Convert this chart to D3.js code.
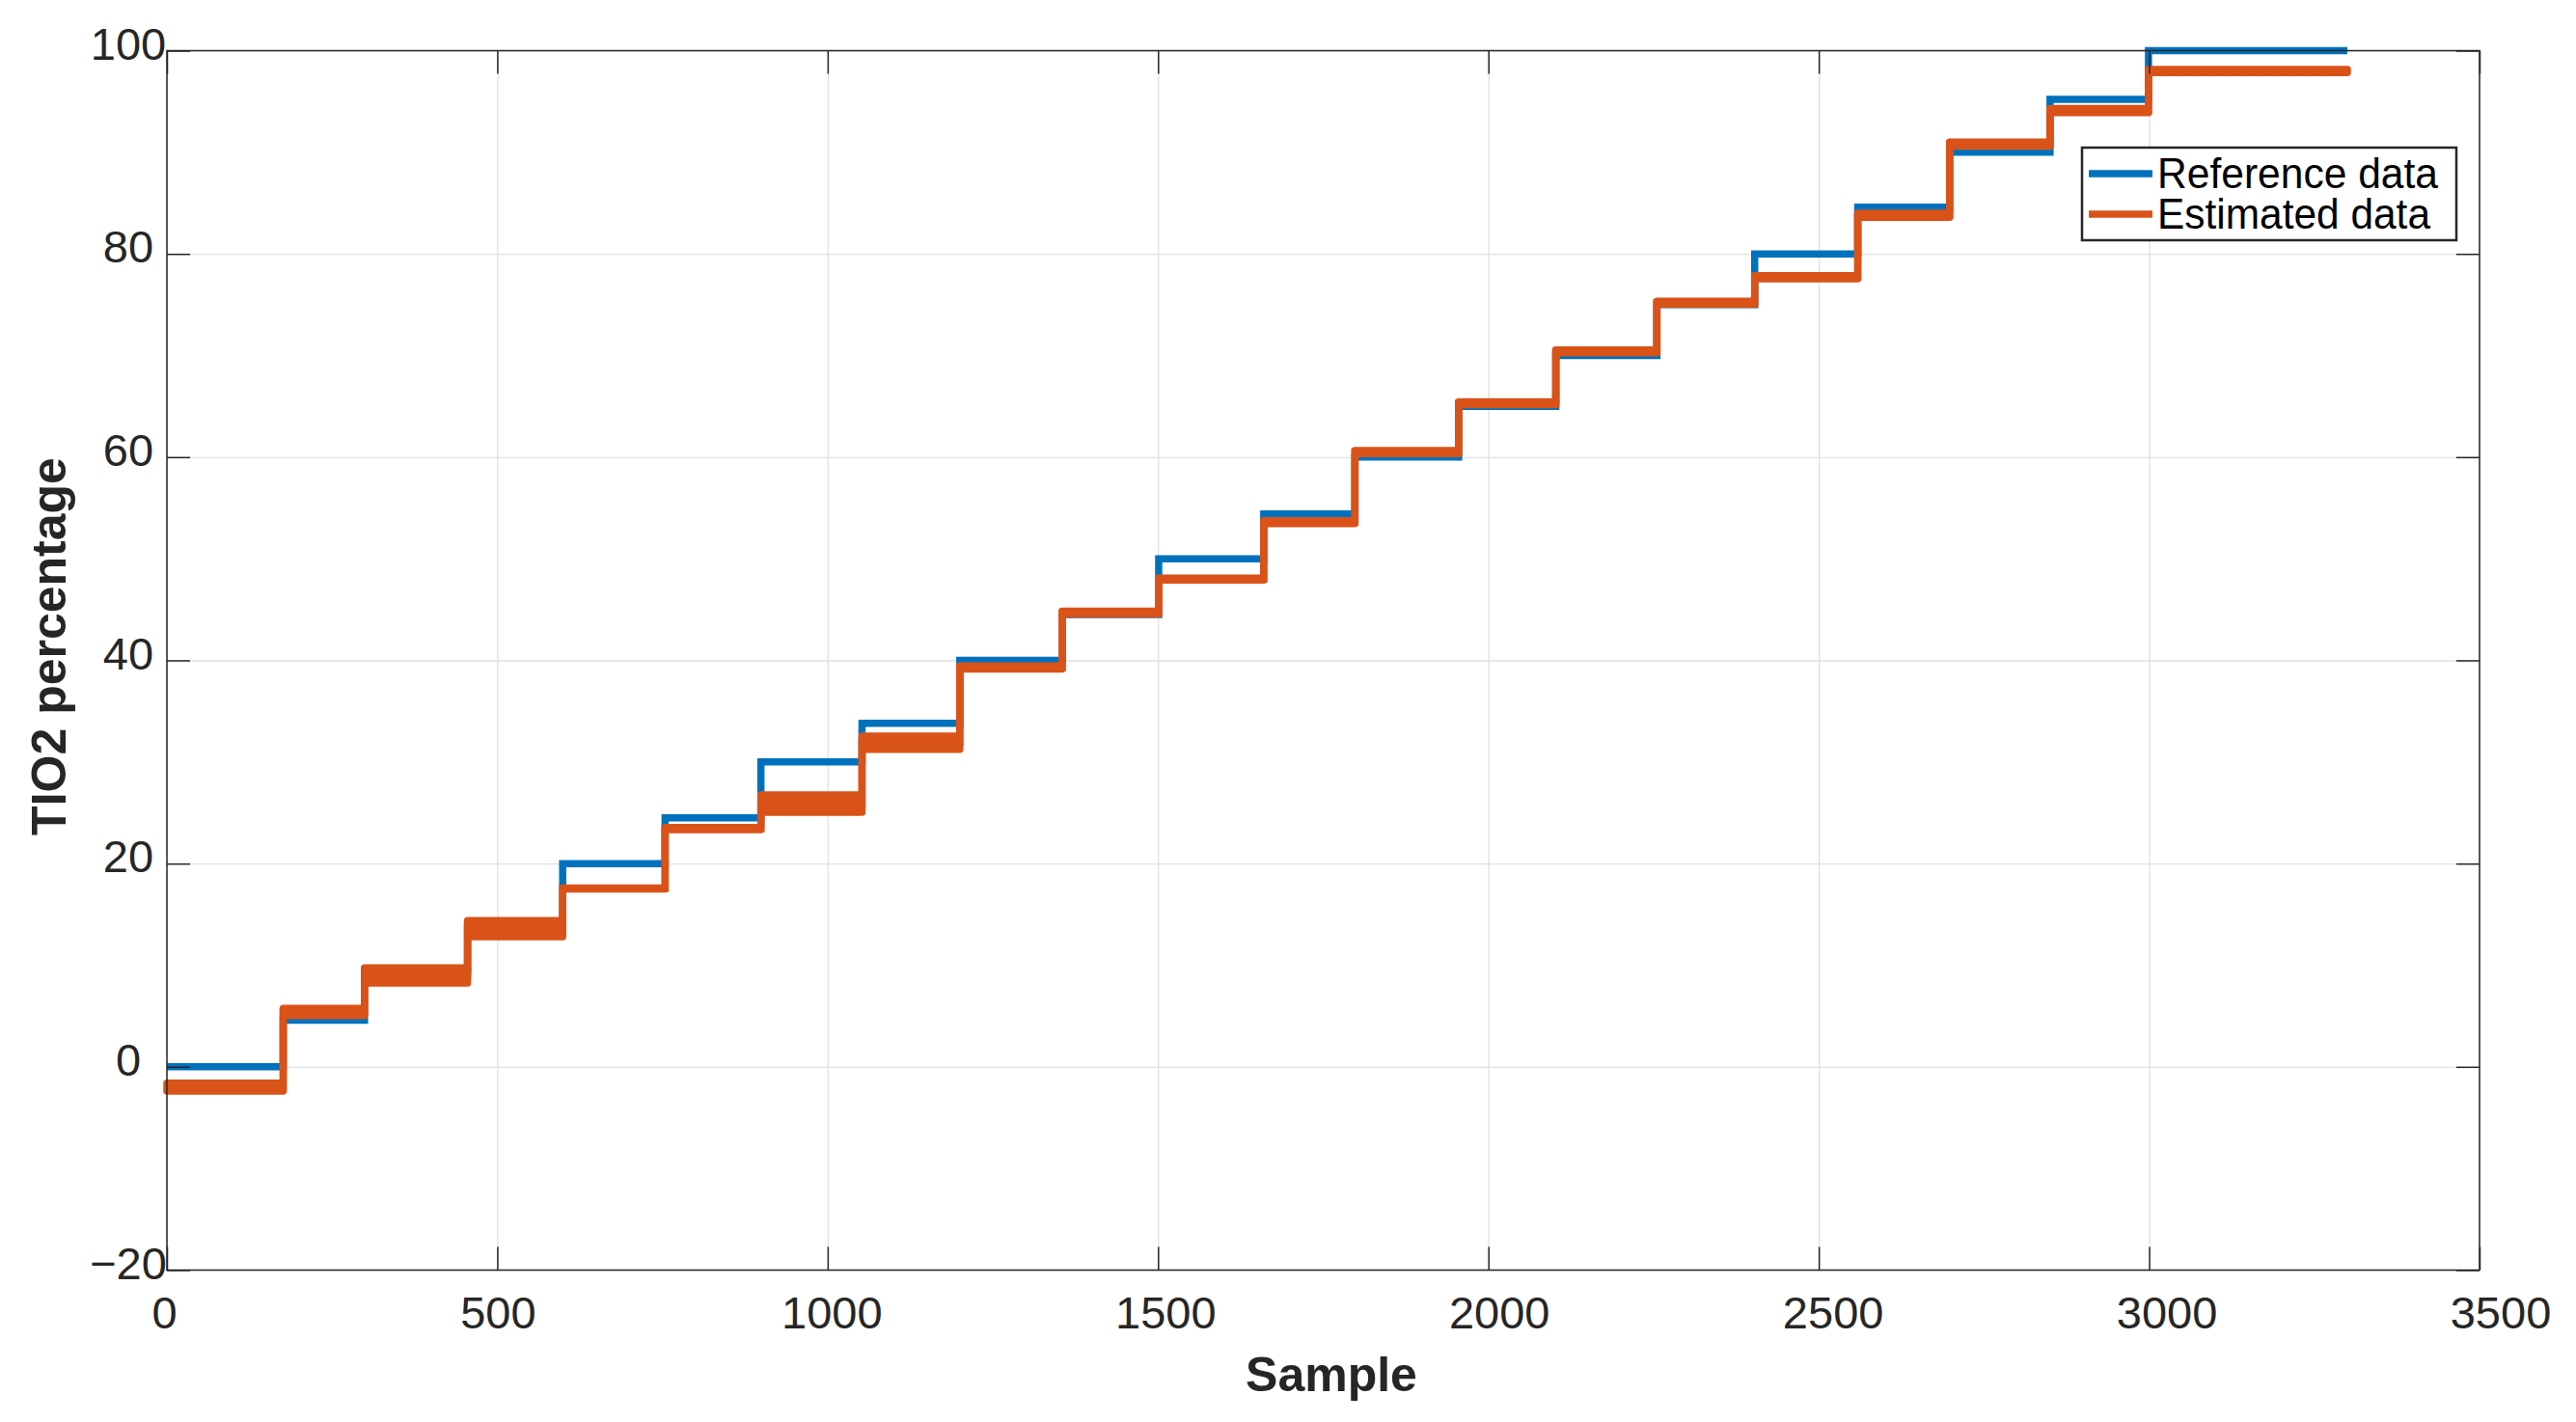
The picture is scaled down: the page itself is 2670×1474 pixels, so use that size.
<!DOCTYPE html>
<meta charset="utf-8">
<style>
body { margin: 0; background: #fff; }
text { font-family: "Liberation Sans", Arial, Helvetica, sans-serif; }
.grid line { stroke: #e0e0e0; stroke-width: 1.3px; }
.grid path { display: none; }
.ticks line { stroke: #262626; stroke-width: 1.5px; }
.ticks path { display: none; }
.ticklabel { font-size: 47px; fill: #262626; }
.axislabel { font-size: 50px; font-weight: bold; fill: #262626; }
</style>
<svg></svg>
<script src="https://d3js.org/d3.v7.min.js"></script>
<script>

// sample index where each level starts, last entry = end of record
var stepStarts = [0, 176, 299, 455, 599, 754, 899, 1052, 1200, 1355, 1501, 1660, 1798, 1955, 2102, 2255, 2403, 2559, 2698, 2850, 2999];
var lastSample = 3300;

// reference TiO2 level for each step
var refValues = [0, 4.6, 9.5, 14, 20, 24.5, 30, 33.8, 40, 44.5, 50, 54.4, 60, 65, 70, 75, 80, 84.6, 90, 95.2, 100];

// estimated level (mean) and the half width of the noise around it
var estValues = [-2.0, 5.4, 9.0, 13.6, 17.55, 23.45, 25.9, 31.9, 39.3, 44.7, 48.0, 53.6, 60.5, 65.3, 70.4, 75.2, 77.7, 83.8, 90.8, 94.1, 98.0];
var estSpread = [0.4, 0.35, 0.75, 0.8, 0.05, 0.1, 0.85, 0.65, 0.15, 0.15, 0.1, 0.15, 0.15, 0.15, 0.15, 0.15, 0.15, 0.2, 0.2, 0.2, 0.15];

var xTicks = [0, 500, 1000, 1500, 2000, 2500, 3000, 3500];
var yTicks = [-20, 0, 20, 40, 60, 80, 100];

var seriesNames = ["Reference data", "Estimated data"];
var colors = ["#0072bd", "#d95319"];

var svg = d3.select("svg")
    .attr("width", 2670)
    .attr("height", 1474);

// plot box (note: "top" is a reserved window prop, so use box.*)
var box = { l: 173, r: 2570, t: 52.5, b: 1316.5 };

var x = d3.scaleLinear().domain([0, 3500]).range([box.l, box.r]);
var y = d3.scaleLinear().domain([-20, 100]).range([box.b, box.t]);
// tick text sits slightly stretched compared with the tick marks
var xLab = d3.scaleLinear().domain([0, 3500]).range([170.5, 2592]);

// build step rows (repeat last value at end)
var rows = stepStarts.map(function(s, i) {
  return { s: s, ref: refValues[i], est: estValues[i], sp: estSpread[i] };
});
rows.push({ s: lastSample, ref: refValues[refValues.length - 1], est: estValues[estValues.length - 1], sp: estSpread[estSpread.length - 1] });

// grid
svg.append("g").attr("class", "grid")
    .attr("transform", "translate(0," + box.b + ")")
    .call(d3.axisBottom(x).tickValues(xTicks).tickSize(-(box.b - box.t)).tickFormat(""));
svg.append("g").attr("class", "grid")
    .attr("transform", "translate(" + box.l + ",0)")
    .call(d3.axisLeft(y).tickValues(yTicks).tickSize(-(box.r - box.l)).tickFormat(""));

// data
var refLine = d3.line()
    .curve(d3.curveStepAfter)
    .x(function(d) { return x(d.s); })
    .y(function(d) { return y(d.ref); });

var estLine = d3.line()
    .curve(d3.curveStepAfter)
    .x(function(d) { return x(d.s); })
    .y(function(d) { return y(d.est); });

var estBand = d3.area()
    .curve(d3.curveStepAfter)
    .x(function(d) { return x(d.s); })
    .y0(function(d) { return y(d.est - d.sp); })
    .y1(function(d) { return y(d.est + d.sp); });

var lw = 7.5;

svg.append("path")
    .datum(rows)
    .attr("d", refLine)
    .attr("fill", "none")
    .attr("stroke", colors[0])
    .attr("stroke-width", lw);

svg.append("path")
    .datum(rows)
    .attr("d", estBand)
    .attr("fill", colors[1])
    .attr("stroke", colors[1])
    .attr("stroke-width", lw)
    .attr("stroke-linejoin", "round");

svg.append("path")
    .datum(rows)
    .attr("d", estLine)
    .attr("fill", "none")
    .attr("stroke", colors[1])
    .attr("stroke-width", lw);

// box + inward ticks on all four sides
svg.append("rect")
    .attr("x", box.l).attr("y", box.t)
    .attr("width", box.r - box.l).attr("height", box.b - box.t)
    .attr("fill", "none")
    .attr("stroke", "#262626")
    .attr("stroke-width", 1.5);

svg.append("g").attr("class", "ticks")
    .attr("transform", "translate(0," + box.b + ")")
    .call(d3.axisBottom(x).tickValues(xTicks).tickSize(-24).tickFormat(""));
svg.append("g").attr("class", "ticks")
    .attr("transform", "translate(0," + box.t + ")")
    .call(d3.axisTop(x).tickValues(xTicks).tickSize(-24).tickFormat(""));
svg.append("g").attr("class", "ticks")
    .attr("transform", "translate(" + box.l + ",0)")
    .call(d3.axisLeft(y).tickValues(yTicks).tickSize(-24).tickFormat(""));
svg.append("g").attr("class", "ticks")
    .attr("transform", "translate(" + box.r + ",0)")
    .call(d3.axisRight(y).tickValues(yTicks).tickSize(-24).tickFormat(""));

// tick labels
svg.selectAll(".xlab")
    .data(xTicks)
    .enter().append("text")
    .attr("class", "ticklabel")
    .attr("x", function(d) { return xLab(d); })
    .attr("y", 1377)
    .attr("text-anchor", "middle")
    .text(function(d) { return d; });

svg.selectAll(".ylab")
    .data(yTicks)
    .enter().append("text")
    .attr("class", "ticklabel")
    .attr("x", 133)
    .attr("y", function(d) { return y(d) + 9; })
    .attr("text-anchor", "middle")
    .text(function(d) { return d < 0 ? "\u2212" + Math.abs(d) : d; });

// axis titles
svg.append("text")
    .attr("class", "axislabel")
    .attr("x", 1380)
    .attr("y", 1442)
    .attr("text-anchor", "middle")
    .text("Sample");

svg.append("text")
    .attr("class", "axislabel")
    .attr("transform", "translate(68,670) rotate(-90)")
    .attr("text-anchor", "middle")
    .text("TIO2 percentage");

// legend
var legend = svg.append("g").attr("transform", "translate(2158,153)");
legend.append("rect")
    .attr("width", 388).attr("height", 96)
    .attr("fill", "#fff")
    .attr("stroke", "#262626")
    .attr("stroke-width", 2.5);

var item = legend.selectAll(".item")
    .data(seriesNames)
    .enter().append("g")
    .attr("transform", function(d, i) { return "translate(0," + (27 + i * 42) + ")"; });

item.append("line")
    .attr("x1", 7).attr("x2", 73)
    .attr("stroke", function(d, i) { return colors[i]; })
    .attr("stroke-width", lw);

item.append("text")
    .attr("x", 78)
    .attr("y", 15)
    .attr("textLength", function(d, i) { return i === 0 ? 291 : 283; })
    .attr("lengthAdjust", "spacingAndGlyphs")
    .style("font-size", "44px")
    .style("fill", "#000")
    .text(function(d) { return d; });

</script>
